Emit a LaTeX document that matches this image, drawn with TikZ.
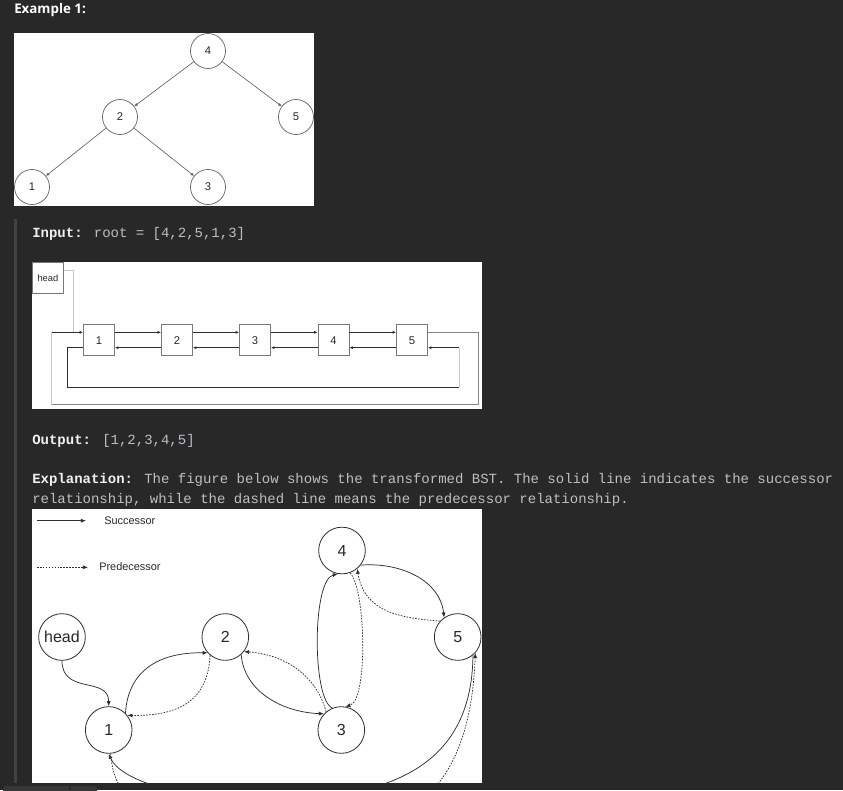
\documentclass[tikz,border=0pt]{standalone}
\usepackage{fontspec}
\setmainfont{Liberation Sans}
\newfontfamily\monof{Liberation Mono}
\newfontfamily\headf{Open Sans}
\usetikzlibrary{arrows.meta}
\definecolor{bg}{RGB}{40,40,40}
\definecolor{barc}{RGB}{66,66,66}
\definecolor{lbl}{RGB}{240,240,240}
\definecolor{val}{RGB}{190,191,194}
\definecolor{dk}{RGB}{45,45,45}
\definecolor{tgray}{RGB}{90,90,90}
\definecolor{bgray}{RGB}{120,120,120}
\definecolor{mgray}{RGB}{135,135,135}
\definecolor{lgray}{RGB}{200,200,200}
\definecolor{txt}{RGB}{40,40,40}
\definecolor{tabc}{RGB}{55,55,55}
\begin{document}
\begin{tikzpicture}[x=0.75pt,y=-0.75pt,
  tnode/.style={circle, draw=tgray, line width=0.5pt, minimum size=26.25pt, inner sep=0pt, font=\fontsize{8.4}{10}\selectfont, text=txt},
  tedge/.style={draw=tgray, line width=0.45pt, -{Latex[length=2.6pt,width=2.2pt]}},
  lbox/.style={draw=bgray, line width=0.6pt, minimum size=23.25pt, inner sep=0pt, font=\fontsize{8.4}{10}\selectfont, text=txt},
  larrow/.style={draw=dk, line width=0.5pt, -{Latex[length=2.6pt,width=2.2pt]}},
  cnode/.style={circle, draw=dk, line width=0.6pt, minimum size=35pt, inner sep=0pt, font=\fontsize{12}{14}\selectfont, text=txt},
  succ/.style={draw=dk, line width=0.55pt, -{Latex[length=3.8pt,width=3pt]}},
  pred/.style={succ, dash pattern=on 1.2pt off 1pt},
  mtext/.style={anchor=base west, inner sep=0pt, font=\monof\fontsize{10.5}{12.6}\selectfont, text=val}
]
% background
\fill[bg] (0,0) rectangle (843,790);
\useasboundingbox (0,0) rectangle (843,790);
\fill[barc] (14,219) rectangle (16.5,783);
\fill[tabc, rounded corners=2pt] (3,786) rectangle (97,796);
\draw[bg, line width=0.8pt] (70,786) -- (70,790);

% heading
\node[anchor=base west, inner sep=0pt, font=\headf\bfseries\fontsize{10}{12}\selectfont, text=white] (ex) at (14,13) {Example 1:};

% ---------- image 1 : tree ----------
\fill[white] (14,33) rectangle (314,206);
\node[tnode] (t4) at (208,51) {4};
\node[tnode] (t2) at (120,117) {2};
\node[tnode] (t5) at (296,117) {5};
\node[tnode] (t1) at (32,187) {1};
\node[tnode] (t3) at (208,187) {3};
\draw[tedge] (t4) -- (t2);
\draw[tedge] (t4) -- (t5);
\draw[tedge] (t2) -- (t1);
\draw[tedge] (t2) -- (t3);

% input text
\node[mtext] (inp) at (32,237) {\textcolor{lbl}{\bfseries Input:} root = [4,2,5,1,3]};

% ---------- image 2 : list ----------
\fill[white] (32,262) rectangle (482,409);
\node[lbox, anchor=north west, font=\fontsize{7}{8}\selectfont] (hb) at (32,262) {head};
\node[lbox] (b1) at (99,340.3) {1};
\node[lbox] (b2) at (177,340.3) {2};
\node[lbox] (b3) at (255,340.3) {3};
\node[lbox] (b4) at (333.5,340.3) {4};
\node[lbox] (b5) at (412,340.3) {5};
\coordinate (fy) at (0,332.3);
\coordinate (by) at (0,347.7);
% head link
\draw[lgray, line width=0.6pt] (hb.east |- 0,270.7) -- (73,270.7) -- (73,332.3);
% outer loop
\draw[mgray, line width=0.6pt] (b5.east |- fy) -- (478.3,332.3) -- (478.3,404.7) -- (51.7,404.7);
\draw[lgray, line width=0.6pt] (51.7,404.7) -- (51.7,332.3);
\draw[larrow] (51.7,332.3) -- (b1.west |- fy);
% inner loop
\draw[dk, line width=0.5pt] (b1.west |- by) -- (67.3,347.7) -- (67.3,387.3) -- (459.3,387.3);
\draw[lgray, line width=0.6pt] (459.3,387.3) -- (459.3,347.7);
\draw[larrow] (459.3,347.7) -- (b5.east |- by);
% forward / backward
\foreach \a/\b in {b1/b2,b2/b3,b3/b4,b4/b5}{
  \draw[larrow] (\a.east |- fy) -- (\b.west |- fy);
  \draw[larrow] (\b.west |- by) -- (\a.east |- by);
}

% output / explanation text
\node[mtext] (outp) at (32,444) {\textcolor{lbl}{\bfseries Output:} [1,2,3,4,5]};
\node[mtext] (ex1) at (32,483.3) {\textcolor{lbl}{\bfseries Explanation:} The figure below shows the transformed BST. The solid line indicates the successor};
\node[mtext] (ex2) at (32,503.3) {relationship, while the dashed line means the predecessor relationship.};

% ---------- image 3 : doubly linked BST ----------
\fill[white] (32,509) rectangle (482,783);
\begin{scope}
\clip (32,509) rectangle (482,783);
\coordinate (ls0) at (37,520.7);
\coordinate (ls1) at (86,520.7);
\coordinate (lp0) at (37,567.3);
\coordinate (lp1) at (88,567.3);
\draw[succ] (ls0) -- (ls1);
\draw[pred] (lp0) -- (lp1);
\node[anchor=west, inner sep=0pt, font=\fontsize{8.2}{10}\selectfont, text=txt] (lsucc) at (104,521) {Successor};
\node[anchor=west, inner sep=0pt, font=\fontsize{8.2}{10}\selectfont, text=txt] (lpred) at (99,567) {Predecessor};

\node[cnode] (h) at (62,637) {head};
\node[cnode] (n1) at (108.7,730) {1};
\node[cnode] (n2) at (225.3,637) {2};
\node[cnode] (n3) at (341.3,730) {3};
\node[cnode] (n4) at (342,550.5) {4};
\node[cnode] (n5) at (457.7,637) {5};

% head -> 1
\draw[succ] (h.south) .. controls (62,695) and (108.7,676) .. (n1.north);
% 1 <-> 2
\draw[succ] (n1.45) .. controls (128,670) and (160,652) .. (n2.222);
\draw[pred] (n2.230) .. controls (208,700) and (180,716) .. (n1.38);
% 2 <-> 3
\draw[succ] (n2.-48) .. controls (244,690) and (280,712) .. (n3.137);
\draw[pred] (n3.130) .. controls (318,680) and (290,655) .. (n2.-38);
% 3 <-> 4
\draw[succ] (n3.112) .. controls (312,700) and (312,580) .. (n4.-100);
\draw[pred] (n4.-70) .. controls (366,590) and (368,700) .. (n3.80);
% 4 <-> 5
\draw[succ] (n4.-38) .. controls (400,562) and (440,580) .. (n5.125);
\draw[pred] (n5.138) .. controls (400,618) and (364,612) .. (n4.-50);
% 5 <-> 1 (wrap-around, below the picture edge)
\coordinate (ms) at (265,800);
\coordinate (mp) at (280,840);
\draw[succ] (n5.-50) .. controls (472,760) and (400,800) .. (ms) .. controls (180,800) and (120,780) .. (n1.-90);
\draw[pred] (n1.-85) .. controls (113,800) and (150,840) .. (mp) .. controls (410,840) and (470,790) .. (n5.-42);
\end{scope}
\end{tikzpicture}
\end{document}
